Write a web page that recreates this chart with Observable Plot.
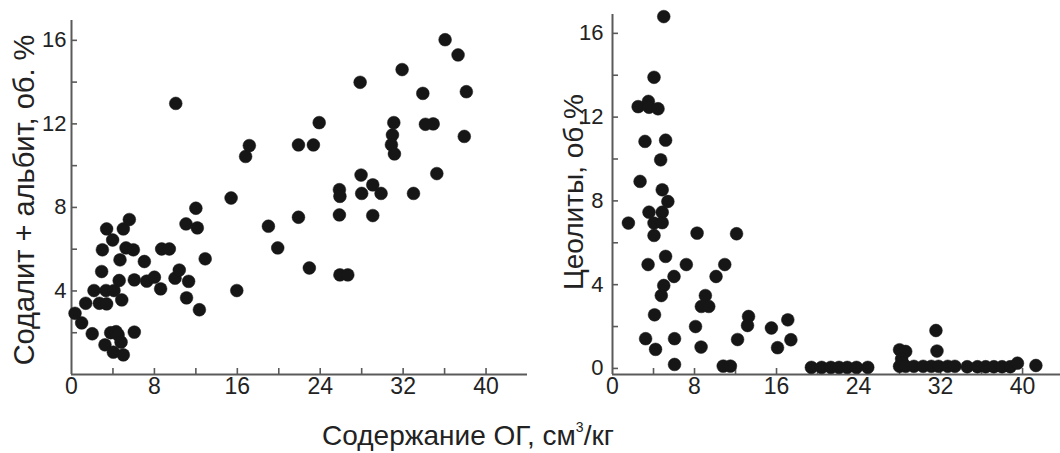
<!DOCTYPE html>
<html>
<head>
<meta charset="utf-8">
<script src="https://cdn.jsdelivr.net/npm/d3@7"></script>
<script src="https://cdn.jsdelivr.net/npm/@observablehq/plot@0.6"></script>
<style>
  html, body { margin: 0; padding: 0; background: #fff; }
  #wrap { position: relative; width: 1060px; height: 453px; overflow: hidden;
          font-family: "Liberation Sans", Arial, Helvetica, sans-serif; color: #222; }
  #left { position: absolute; left: 0; top: 0; }
  #right { position: absolute; left: 540px; top: 0; }
  .ttl { position: absolute; font-size: 28px; white-space: nowrap; line-height: 1; color: #222; }
  .rot { transform: translate(-50%, -50%) rotate(-90deg); }
  .hor { transform: translate(-50%, -50%); }
  sup { font-size: 0.5em; vertical-align: 0.9em; line-height: 0; }
</style>
</head>
<body>
<div id="wrap">
  <div id="left"></div>
  <div id="right"></div>
  <div class="ttl rot" id="ylabL" style="left:24px; top:200px; font-size:29px;">Содалит + альбит, об. %</div>
  <div class="ttl rot" id="ylabR" style="left:574px; top:192px;">Цеолиты, об.%</div>
  <div class="ttl hor" id="xlab" style="left:468px; top:436px;">Содержание ОГ, см<sup>3</sup>/кг</div>
</div>
<script>
// ---- Left panel: Содалит + альбит vs Содержание ОГ ----
const leftX = [0.34, 0.98, 1.37, 2.0, 2.17, 2.69, 2.91, 2.98, 3.23, 3.33, 3.39, 3.39, 3.78, 3.97, 4.04, 4.1, 4.3, 4.5,
  4.6, 4.68, 4.78, 4.85, 5.0, 5.0, 5.26, 5.58, 5.97, 6.06, 6.06, 7.03, 7.26, 8.0, 8.6, 8.7, 9.44, 9.99, 10.4,
  11.05, 11.1, 11.3, 12.0, 12.14, 12.34, 12.9, 15.4, 15.95, 10.06, 16.8, 17.16,
  36.05, 37.3, 31.9, 27.85, 33.9, 38.1, 23.9, 31.1, 34.15, 34.9, 30.97, 30.87, 37.9, 31.16, 21.9, 23.34,
  35.25, 27.94, 29.07, 25.85, 25.9, 28.0, 29.87, 33.0, 19.0, 21.9, 25.85, 29.07, 19.9, 22.95, 25.9, 26.66];
const leftY = [2.93, 2.47, 3.41, 1.95, 4.02, 3.41, 4.93, 5.97, 1.42, 4.02, 3.38, 6.97, 2.0, 6.44, 1.07, 4.02, 2.05, 1.9,
  4.5, 5.49, 1.55, 3.57, 0.94, 6.97, 6.06, 7.42, 5.97, 4.53, 2.03, 5.41, 4.47, 4.66, 4.1, 6.01, 6.01, 4.61, 5.0,
  7.21, 3.67, 4.46, 7.96, 7.02, 3.1, 5.54, 8.45, 4.02, 12.98, 10.44, 10.96,
  16.03, 15.3, 14.6, 13.99, 13.46, 13.54, 12.06, 12.06, 11.98, 12.0, 11.47, 11.0, 11.4, 10.56, 10.99, 10.99,
  9.62, 9.55, 9.08, 8.85, 8.53, 8.67, 8.67, 8.67, 7.1, 7.53, 7.64, 7.61, 6.06, 5.1, 4.77, 4.77];

// ---- Right panel: Цеолиты vs Содержание ОГ ----
const rightX = [5.0, 4.05, 2.5, 3.5, 3.56, 4.44, 3.17, 5.18, 4.7, 2.69, 4.85, 5.4, 3.56, 4.85, 1.55, 4.05, 4.85, 4.05,
  8.25, 12.1, 5.18, 3.47, 7.2, 10.95, 6.0, 10.1, 5.0, 4.76, 9.06, 8.67, 9.39, 4.1, 13.27, 13.17, 8.1, 15.5, 17.1,
  3.23, 6.05, 12.2, 17.4, 4.2, 8.64, 16.1, 6.05, 10.8, 11.5,
  19.4, 20.4, 21.3, 22.1, 22.9, 23.8, 24.9,
  28.0, 28.6, 28.2, 28.3, 31.55, 31.65,
  28.0, 28.6, 29.4, 30.3, 31.1, 31.8, 32.7, 33.4,
  34.6, 35.6, 36.4, 37.2, 38.0, 38.8, 39.5, 41.3];
const rightY = [16.8, 13.9, 12.5, 12.75, 12.47, 12.4, 10.84, 10.9, 9.96, 8.93, 8.53, 7.97, 7.46, 7.46, 6.94, 6.94, 6.96, 6.35,
  6.46, 6.43, 5.35, 4.96, 4.96, 4.96, 4.39, 4.39, 3.96, 3.48, 3.48, 2.96, 2.96, 2.56, 2.48, 2.05, 2.0, 1.93, 2.32,
  1.42, 1.42, 1.38, 1.37, 0.91, 1.02, 0.99, 0.19, 0.11, 0.11,
  0.05, 0.05, 0.05, 0.05, 0.05, 0.05, 0.05,
  0.89, 0.81, 0.45, 0.25, 1.81, 0.83,
  0.1, 0.1, 0.1, 0.1, 0.1, 0.1, 0.1, 0.1,
  0.08, 0.08, 0.08, 0.08, 0.08, 0.08, 0.25, 0.14];

// ---- Axes ----
const xTicks = [4, 8, 12, 16, 20, 24, 28, 32, 36, 40];
const xLabels = [0, 8, 16, 24, 32, 40];
const leftYTicks = [2, 4, 6, 8, 10, 12, 14, 16];
const leftYLabels = [4, 8, 12, 16];
const rightYTicks = [0, 2, 4, 6, 8, 10, 12, 14, 16];
const rightYLabels = [0, 4, 8, 12, 16];
const leftXDomain = [0, 44];
const leftYDomain = [0, 16.95];
const rightXDomain = [0, 43.7];
const rightYDomain = [-0.29, 16.9];

const AXIS = "#5a5a5a";
const DOT = "#161616";
const FONT = '"Liberation Sans", Arial, Helvetica, sans-serif';

function panel({xs, ys, xDomain, yDomain, yTicks, yLabels, width, marginLeft, marginRight, marginTop, yPad}) {
  const data = xs.map((x, i) => ({x, y: ys[i]}));
  return Plot.plot({
    width, height: 400,
    marginLeft, marginRight, marginTop, marginBottom: 26,
    x: {domain: xDomain, label: null},
    y: {domain: yDomain, label: null},
    style: {fontFamily: FONT, color: "#222", background: "transparent", overflow: "visible"},
    marks: [
      Plot.ruleX([xDomain[0]], {stroke: AXIS, strokeWidth: 2}),
      Plot.ruleY([yDomain[0]], {stroke: AXIS, strokeWidth: 2}),
      Plot.axisX({ticks: xTicks, tickSize: 6, dy: -6, tickFormat: () => "", stroke: AXIS, strokeWidth: 1.6, label: null}),
      Plot.axisX({ticks: xLabels, tickSize: 0, tickPadding: 3, fontSize: 23, fill: "#222", label: null}),
      Plot.axisY({ticks: yTicks, tickSize: 6, dx: 6, tickFormat: () => "", stroke: AXIS, strokeWidth: 1.6, label: null}),
      Plot.axisY({ticks: yLabels, tickSize: 0, tickPadding: yPad, fontSize: 22, fill: "#222", label: null}),
      Plot.dot(data, {x: "x", y: "y", r: 6.4, fill: DOT, stroke: DOT, strokeWidth: 0.5})
    ]
  });
}

document.getElementById("left").append(panel({
  xs: leftX, ys: leftY, xDomain: leftXDomain, yDomain: leftYDomain,
  yTicks: leftYTicks, yLabels: leftYLabels,
  width: 540, marginLeft: 71, marginRight: 13, marginTop: 20, yPad: 5
}));
document.getElementById("right").append(panel({
  xs: rightX, ys: rightY, xDomain: rightXDomain, yDomain: rightYDomain,
  yTicks: rightYTicks, yLabels: rightYLabels,
  width: 520, marginLeft: 72, marginRight: 0, marginTop: 14, yPad: 9
}));
</script>
</body>
</html>
